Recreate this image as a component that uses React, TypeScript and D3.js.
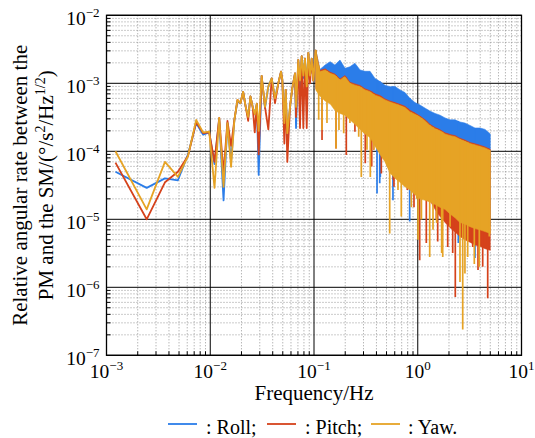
import React from "react";
import * as d3 from "d3";

// ---------- axis ticks ----------
const xMajor = [1e-3, 1e-2, 1e-1, 1e0, 1e1];
const xMajorExp = ["−3", "−2", "−1", "0", "1"];
const yMajor = [1e-7, 1e-6, 1e-5, 1e-4, 1e-3, 1e-2];
const yMajorExp = ["−7", "−6", "−5", "−4", "−3", "−2"];

// ---------- low-frequency (sparse) part, Hz ----------
const lowFreq = [
  0.00122, 0.00244, 0.00366, 0.00488, 0.0061, 0.00732, 0.00854, 0.00977, 0.01099, 0.0122,
  0.01343, 0.01465, 0.01587, 0.01709, 0.0183, 0.01953, 0.02075, 0.02197, 0.0232, 0.0244,
  0.02563, 0.02686, 0.0281, 0.0293, 0.0313, 0.0337, 0.0363, 0.0391, 0.0421, 0.0453,
  0.0481, 0.0495, 0.0518, 0.0534, 0.0553, 0.0587, 0.0618, 0.0656, 0.0671, 0.0706,
  0.0733, 0.0761, 0.0789, 0.0819, 0.0851, 0.0882, 0.0915, 0.095, 0.0985, 0.1038,
];
const rollLow = [
  5.0e-5, 2.9e-5, 4.0e-5, 3.75e-5, 9.0e-5, 2.6e-4, 1.75e-4, 1.9e-4, 6.5e-5, 3.0e-4,
  1.9e-5, 2.6e-4, 7.0e-5, 2.9e-4, 5.5e-4, 5.1e-4, 7.5e-4, 4.5e-4, 3.2e-4, 6.4e-4,
  4.5e-4, 3.5e-4, 5.0e-4, 4.5e-5, 1.28e-3, 4.3e-4, 9.0e-4, 1.18e-3, 6.0e-4, 1.0e-3,
  1.48e-3, 1.12e-3, 2.4e-4, 8.0e-4, 1.5e-4, 4.5e-4, 8.5e-4, 1.4e-3, 2.2e-4, 2.2e-3,
  8.0e-4, 2.5e-3, 1.2e-3, 2.3e-3, 8.0e-4, 2.8e-3, 1.3e-3, 2.3e-3, 1.1e-3, 3.1e-3,
];
const pitchLow = [
  6.8e-5, 1.0e-5, 3.5e-5, 5.0e-5, 8.5e-5, 2.7e-4, 1.85e-4, 1.9e-4, 7.0e-5, 3.1e-4,
  4.8e-5, 2.8e-4, 1.2e-4, 2.9e-4, 5.7e-4, 5.1e-4, 7.5e-4, 4.5e-4, 2.8e-4, 6.4e-4,
  4.5e-4, 1.9e-4, 5.0e-4, 9.0e-5, 1.28e-3, 4.5e-4, 2.1e-4, 1.18e-3, 5.1e-4, 1.0e-3,
  1.48e-3, 1.12e-3, 1.3e-4, 8.0e-4, 7.0e-5, 4.5e-4, 8.5e-4, 1.4e-3, 3.2e-4, 2.2e-3,
  2.2e-4, 2.5e-3, 2.2e-4, 2.3e-3, 2.2e-4, 2.8e-3, 1.0e-3, 2.3e-3, 1.1e-3, 3.1e-3,
];
const yawLow = [
  1.0e-4, 1.4e-5, 7.0e-5, 4.2e-5, 8.5e-5, 2.9e-4, 1.9e-4, 1.95e-4, 2.9e-5, 3.1e-4,
  3.0e-5, 2.6e-4, 5.9e-5, 2.9e-4, 5.7e-4, 5.1e-4, 7.5e-4, 4.5e-4, 3.2e-4, 6.4e-4,
  4.5e-4, 3.5e-4, 5.0e-4, 2.0e-4, 1.28e-3, 4.5e-4, 9.0e-4, 1.18e-3, 6.0e-4, 1.0e-3,
  1.48e-3, 1.12e-3, 2.6e-4, 8.0e-4, 1.85e-4, 4.5e-4, 8.5e-4, 1.4e-3, 4.5e-4, 2.2e-3,
  1.1e-3, 2.5e-3, 1.3e-3, 2.3e-3, 9.0e-4, 2.8e-3, 1.3e-3, 2.3e-3, 1.1e-3, 3.1e-3,
];

// ---------- dense band (envelopes), Hz ----------
const bandFreq = [
  0.104, 0.114, 0.128, 0.143, 0.159, 0.178, 0.199, 0.222, 0.248, 0.278, 0.31, 0.347,
  0.387, 0.433, 0.483, 0.54, 0.604, 0.675, 0.754, 0.842, 0.941, 1.05, 1.18, 1.31,
  1.47, 1.64, 1.83, 2.05, 2.29, 2.55, 2.85, 3.19, 3.56, 3.98, 4.45, 5.0,
];
const rollTop = [
  3.1e-3, 1.6e-3, 1.86e-3, 2.08e-3, 1.86e-3, 2.2e-3, 1.66e-3, 1.75e-3, 1.97e-3, 1.57e-3, 1.5e-3, 1.5e-3,
  1.18e-3, 1.06e-3, 9.4e-4, 8.9e-4, 9.0e-4, 8.0e-4, 7.3e-4, 6.0e-4, 5.2e-4, 4.8e-4, 4.3e-4, 3.9e-4,
  3.6e-4, 3.4e-4, 3.1e-4, 2.9e-4, 2.9e-4, 2.7e-4, 2.6e-4, 2.4e-4, 2.2e-4, 2.2e-4, 2.1e-4, 1.8e-4,
];
const rollBottom = [
  1.04e-3, 8.5e-4, 7.2e-4, 6.5e-4, 5.2e-4, 4.7e-4, 4.4e-4, 3.8e-4, 3.3e-4, 2.7e-4, 2.3e-4, 2.1e-4,
  1.6e-4, 1.2e-4, 9.1e-5, 6.2e-5, 5.2e-5, 4.6e-5, 3.9e-5, 3.5e-5, 3.0e-5, 2.6e-5, 2.5e-5, 2.3e-5,
  2.1e-5, 2.0e-5, 1.8e-5, 1.6e-5, 1.4e-5, 1.2e-5, 1.1e-5, 1.0e-5, 9.5e-6, 9.1e-6, 8.6e-6, 8.1e-6,
];
const pitchTop = [
  3.1e-3, 1.54e-3, 1.63e-3, 1.46e-3, 1.37e-3, 1.16e-3, 1.3e-3, 1.04e-3, 9.8e-4, 9.3e-4, 8.3e-4, 7.8e-4,
  7.0e-4, 6.6e-4, 5.9e-4, 5.5e-4, 5.2e-4, 4.9e-4, 4.6e-4, 4.0e-4, 3.65e-4, 3.3e-4, 2.9e-4, 2.5e-4,
  2.24e-4, 2.08e-4, 1.87e-4, 1.77e-4, 1.7e-4, 1.56e-4, 1.46e-4, 1.35e-4, 1.29e-4, 1.23e-4, 1.16e-4, 1.07e-4,
];
const pitchBottom = [
  8.4e-4, 6.8e-4, 5.8e-4, 5.3e-4, 4.2e-4, 3.8e-4, 3.6e-4, 3.0e-4, 2.6e-4, 2.2e-4, 1.9e-4, 1.7e-4,
  1.26e-4, 9.5e-5, 7.4e-5, 5.0e-5, 4.2e-5, 3.7e-5, 3.2e-5, 2.8e-5, 2.4e-5, 2.1e-5, 2.0e-5, 1.9e-5,
  1.4e-5, 1.1e-5, 9.0e-6, 7.5e-6, 6.5e-6, 5.6e-6, 5.0e-6, 4.6e-6, 4.2e-6, 4.0e-6, 3.7e-6, 3.5e-6,
];
const yawTop = [
  3.1e-3, 1.48e-3, 1.57e-3, 1.4e-3, 1.32e-3, 1.12e-3, 1.25e-3, 1.0e-3, 9.4e-4, 8.9e-4, 8.0e-4, 7.5e-4,
  6.7e-4, 6.3e-4, 5.7e-4, 5.3e-4, 5.0e-4, 4.7e-4, 4.4e-4, 3.8e-4, 3.5e-4, 3.2e-4, 2.8e-4, 2.4e-4,
  2.15e-4, 2.0e-4, 1.8e-4, 1.7e-4, 1.64e-4, 1.5e-4, 1.4e-4, 1.3e-4, 1.24e-4, 1.18e-4, 1.12e-4, 1.03e-4,
];
const yawBottom = [
  8.0e-4, 6.5e-4, 5.5e-4, 5.0e-4, 4.0e-4, 3.6e-4, 3.4e-4, 2.9e-4, 2.5e-4, 2.1e-4, 1.8e-4, 1.6e-4,
  1.2e-4, 9.0e-5, 7.0e-5, 4.8e-5, 4.0e-5, 3.5e-5, 3.0e-5, 2.7e-5, 2.3e-5, 2.0e-5, 1.9e-5, 1.8e-5,
  1.65e-5, 1.5e-5, 1.4e-5, 1.2e-5, 1.05e-5, 9.0e-6, 8.5e-6, 7.8e-6, 7.3e-6, 7.0e-6, 6.6e-6, 6.2e-6,
];

// ---------- downward spikes [Hz, value] ----------
const rollSpikes: [number, number][] = [
  [0.405, 2.4e-5], [0.43, 3.4e-5], [0.4355, 4.2e-5], [0.577, 1.9e-5], [0.836, 9.3e-6],
  [2.44, 8.0e-6], [2.46, 4.5e-6], [3.56, 2.7e-6],
];
const pitchSpikes: [number, number][] = [
  [0.1195, 1.46e-4], [0.163, 1.1e-4], [0.2048, 8.8e-5], [0.248, 1.94e-4], [0.312, 6.7e-5], [0.36, 6.0e-5],
  [0.376, 1.05e-4], [0.4454, 4.7e-5], [0.581, 3.8e-5], [0.59, 3.0e-5], [0.793, 2.7e-5], [0.92, 1.5e-5],
  [1.044, 2.5e-6], [1.209, 4.5e-6], [1.51, 9.9e-6], [1.557, 4.7e-6], [1.944, 3.9e-6], [2.172, 3.2e-6],
  [2.301, 7.2e-7], [3.385, 3.9e-6], [3.81, 1.8e-6], [4.227, 2.0e-6], [4.724, 6.9e-7],
];
const yawSpikes: [number, number][] = [
  [0.111, 2.9e-4], [0.1195, 2.06e-4], [0.1334, 2.6e-4], [0.163, 1.1e-4], [0.174, 2.06e-4], [0.1933, 1.84e-4],
  [0.222, 2.6e-4], [0.2697, 1.64e-4], [0.2857, 4.2e-5], [0.324, 1.05e-4], [0.349, 4.2e-5], [0.376, 1.05e-4],
  [0.5366, 6.2e-6], [0.645, 2.7e-5], [0.694, 1.1e-5], [0.867, 1.5e-5], [0.977, 2.0e-5], [1.006, 5.0e-6],
  [1.085, 9.9e-6], [1.304, 2.8e-6], [1.403, 7.0e-6], [1.52, 8.8e-6], [1.70, 3.2e-6], [1.74, 2.8e-6],
  [2.05, 7.8e-6], [2.554, 1.2e-6], [2.713, 2.4e-7], [2.85, 1.6e-6], [3.03, 2.8e-6], [3.508, 2.2e-6],
  [3.92, 2.0e-6], [4.894, 5.6e-6],
];

const seriesNames = ["Roll", "Pitch", "Yaw"];
const COLORS = ["#2b7de9", "#d5421b", "#e6a325"];

const FONT = "'Liberation Serif', 'Times New Roman', Times, serif";

function interpLog(fs: number[], vs: number[], f: number) {
  for (let i = 0; i < fs.length - 1; i++) {
    if (f >= fs[i] && f <= fs[i + 1]) {
      const t = (Math.log(f) - Math.log(fs[i])) / (Math.log(fs[i + 1]) - Math.log(fs[i]));
      return Math.exp(Math.log(vs[i]) * (1 - t) + Math.log(vs[i + 1]) * t);
    }
  }
  return vs[vs.length - 1];
}

export default function App() {
  const W = 535, H = 438;
  const L = 106.5, R = 521.5, T = 15.3, B = 355.3;
  const x = d3.scaleLog().domain([1e-3, 1e1]).range([L, R]);
  const y = d3.scaleLog().domain([1e-7, 1e-2]).range([B, T]);

  const xAll = x.ticks();
  const yAll = y.ticks();
  const isMajor = (v: number) => Math.abs(Math.log10(v) - Math.round(Math.log10(v))) < 1e-6;
  const xMinor = xAll.filter((v) => !isMajor(v));
  const yMinor = yAll.filter((v) => !isMajor(v));

  const line = d3.line<[number, number]>().x((d) => x(d[0])).y((d) => y(d[1]));

  const series = [
    { low: rollLow, top: rollTop, bottom: rollBottom, spikes: rollSpikes },
    { low: pitchLow, top: pitchTop, bottom: pitchBottom, spikes: pitchSpikes },
    { low: yawLow, top: yawTop, bottom: yawBottom, spikes: yawSpikes },
  ];

  const legendItems = [
    { lx: 168, tx: 206 },
    { lx: 267, tx: 305 },
    { lx: 371, tx: 408 },
  ];

  return (
    <svg width={W} height={H} style={{ position: "absolute", left: 0, top: 0, background: "#fff" }} fontFamily={FONT}>
      <defs>
        <clipPath id="plotClip">
          <rect x={L} y={T} width={R - L} height={B - T} />
        </clipPath>
      </defs>
      <rect x={0} y={0} width={W} height={H} fill="#fff" />
      {/* minor grid */}
      <g stroke="#8c8c8c" strokeWidth={0.9} strokeDasharray="1 2" fill="none">
        {xMinor.map((v, i) => (
          <line key={"xm" + i} x1={x(v)} x2={x(v)} y1={T} y2={B} />
        ))}
        {yMinor.map((v, i) => (
          <line key={"ym" + i} x1={L} x2={R} y1={y(v)} y2={y(v)} />
        ))}
      </g>
      {/* major grid */}
      <g stroke="#000" strokeWidth={1} fill="none">
        {xMajor.map((v, i) => (
          <line key={"xM" + i} x1={x(v)} x2={x(v)} y1={T} y2={B} />
        ))}
        {yMajor.map((v, i) => (
          <line key={"yM" + i} x1={L} x2={R} y1={y(v)} y2={y(v)} />
        ))}
      </g>
      {/* data */}
      <g clipPath="url(#plotClip)">
        {series.map((s, si) => {
          const pts: [number, number][] = lowFreq.map((f, i) => [f, s.low[i]]);
          const area = d3
            .area<number>()
            .x((_, i) => x(bandFreq[i]))
            .y0((_, i) => y(s.bottom[i]))
            .y1((_, i) => y(s.top[i]));
          return (
            <g key={si}>
              <path d={line(pts) || ""} fill="none" stroke={COLORS[si]} strokeWidth={1.8} strokeLinejoin="round" />
              <path d={area(bandFreq) || ""} fill={COLORS[si]} stroke={COLORS[si]} strokeWidth={0.6} strokeLinejoin="round" />
              {s.spikes.map((sp, k) => (
                <line
                  key={k}
                  x1={x(sp[0])}
                  x2={x(sp[0])}
                  y1={y(sp[1])}
                  y2={y(interpLog(bandFreq, s.top, sp[0]))}
                  stroke={COLORS[si]}
                  strokeWidth={1.7}
                />
              ))}
            </g>
          );
        })}
      </g>
      {/* minor ticks inward */}
      <g stroke="#000" strokeWidth={1}>
        {xMinor.map((v, i) => (
          <line key={"xt" + i} x1={x(v)} x2={x(v)} y1={B} y2={B - 4} />
        ))}
        {yMinor.map((v, i) => (
          <line key={"yt" + i} x1={L} x2={L + 4} y1={y(v)} y2={y(v)} />
        ))}
      </g>
      {/* frame */}
      <rect x={L} y={T} width={R - L} height={B - T} fill="none" stroke="#000" strokeWidth={1.3} />
      {/* x tick labels */}
      {xMajor.map((v, i) => (
        <text key={"xl" + i} x={x(v)} y={378} textAnchor="middle" fontSize={19.5} fill="#000">
          10
          <tspan dy={-8} fontSize={13}>
            {xMajorExp[i]}
          </tspan>
        </text>
      ))}
      {/* y tick labels */}
      {yMajor.map((v, i) => (
        <text key={"yl" + i} x={99.5} y={y(v) + 10} textAnchor="end" fontSize={19.5} fill="#000">
          10
          <tspan dy={-8} fontSize={13}>
            {yMajorExp[i]}
          </tspan>
        </text>
      ))}
      {/* axis titles */}
      <text x={(L + R) / 2} y={400} textAnchor="middle" fontSize={21} fill="#000">
        Frequency/Hz
      </text>
      <g transform={`translate(26.5, ${(T + B) / 2}) rotate(-90)`}>
        <text x={0} y={0} textAnchor="middle" fontSize={21} fill="#000">
          Relative angular rate between the
        </text>
      </g>
      <g transform={`translate(53, ${(T + B) / 2}) rotate(-90)`}>
        <text x={0} y={0} textAnchor="middle" fontSize={21} fill="#000">
          PM and the SM/(°/s
          <tspan dy={-8} fontSize={14}>2</tspan>
          <tspan dy={8}>/Hz</tspan>
          <tspan dy={-8} fontSize={14}>1/2</tspan>
          <tspan dy={8}>)</tspan>
        </text>
      </g>
      {/* legend */}
      {legendItems.map((it, i) => (
        <g key={"lg" + i}>
          <line x1={it.lx} x2={it.lx + 29} y1={424} y2={424} stroke={COLORS[i]} strokeWidth={1.8} />
          <text x={it.tx} y={434} fontSize={20} fill="#000">
            {": " + seriesNames[i] + (i < 2 ? ";" : ".")}
          </text>
        </g>
      ))}
    </svg>
  );
}
